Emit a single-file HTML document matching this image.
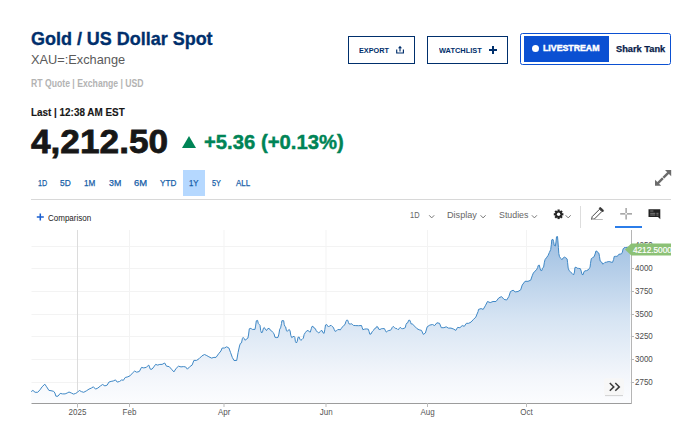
<!DOCTYPE html>
<html><head><meta charset="utf-8"><title>Gold / US Dollar Spot</title>
<style>
html,body{margin:0;padding:0;background:#fff;}
body{width:679px;height:422px;position:relative;overflow:hidden;font-family:"Liberation Sans",Arial,sans-serif;}
.a{position:absolute;white-space:nowrap;line-height:1;transform-origin:0 0;}
.btn{border:1.3px solid #002f6c;box-sizing:border-box;height:28px;top:36px;}
</style></head><body>
<div class="a" style="left:183px;top:170px;width:22px;height:25.5px;background:#b5d8ff;"></div>
<div class="a btn" style="left:348px;width:67px;"></div>
<div class="a btn" style="left:427px;width:81px;"></div>
<div class="a" style="left:520px;top:33px;width:151px;height:32px;box-sizing:border-box;border:1.5px solid #0b50d2;border-radius:2.5px;"></div>
<div class="a" style="left:524px;top:36px;width:85px;height:26px;background:#0b50d2;"></div>
<div class="a" style="left:531.8px;top:44.9px;width:7px;height:7px;border-radius:3.5px;background:#fff;"></div>
<div class="a" style="left:181.8px;top:135.9px;width:0;height:0;border-left:7.3px solid transparent;border-right:7.3px solid transparent;border-bottom:12px solid #008456;"></div>
<div class="a" style="left:31px;top:199px;width:640px;height:1px;background:#d8d8d8;"></div>
<div class="a" id="title" style="left:30.8px;top:29.56px;font-size:18.6px;font-weight:bold;color:#002f6c;-webkit-text-stroke:0.35px #002f6c;transform:scaleX(0.9659);">Gold / US Dollar Spot</div>
<div class="a" id="sym" style="left:31.1px;top:53.63px;font-size:12.6px;font-weight:normal;color:#5a5a5a;transform:scaleX(1.0144);">XAU=:Exchange</div>
<div class="a" id="rt" style="left:31.1px;top:79.35px;font-size:10.1px;font-weight:bold;color:#b3b3b3;transform:scaleX(0.8577);">RT Quote | Exchange | USD</div>
<div class="a" id="last" style="left:31.4px;top:106.77px;font-size:10.9px;font-weight:bold;color:#171717;-webkit-text-stroke:0.15px #171717;transform:scaleX(0.9086);">Last | 12:38 AM EST</div>
<div class="a" id="price" style="left:30.9px;top:124.97px;font-size:33.7px;font-weight:bold;color:#171717;-webkit-text-stroke:0.8px #171717;transform:scaleX(1.0454);">4,212.50</div>
<div class="a" id="chg" style="left:203.9px;top:131.55px;font-size:20.5px;font-weight:bold;color:#008456;-webkit-text-stroke:0.45px #008456;transform:scaleX(0.9885);">+5.36 (+0.13%)</div>
<div class="a" id="exp" style="left:359.1px;top:47.17px;font-size:7.6px;font-weight:bold;color:#002f6c;transform:scaleX(0.9573);">EXPORT</div>
<div class="a" id="wl" style="left:438.6px;top:47.17px;font-size:7.6px;font-weight:bold;color:#002f6c;transform:scaleX(0.9763);">WATCHLIST</div>
<div class="a" id="ls" style="left:543.1px;top:42.64px;font-size:9.4px;font-weight:bold;color:#ffffff;-webkit-text-stroke:0.45px #ffffff;transform:scaleX(0.9351);">LIVESTREAM</div>
<div class="a" id="st" style="left:615.8px;top:44.72px;font-size:8.6px;font-weight:bold;color:#0a1d4a;-webkit-text-stroke:0.25px #0a1d4a;transform:scaleX(1.0765);">Shark Tank</div>
<div class="a" id="t1" style="left:37.7px;top:178.68px;font-size:9px;font-weight:normal;color:#1660a8;-webkit-text-stroke:0.25px #1660a8;transform:scaleX(0.7989);">1D</div>
<div class="a" id="t2" style="left:60.3px;top:178.68px;font-size:9px;font-weight:normal;color:#1660a8;-webkit-text-stroke:0.25px #1660a8;transform:scaleX(0.9292);">5D</div>
<div class="a" id="t3" style="left:84.4px;top:178.68px;font-size:9px;font-weight:normal;color:#1660a8;-webkit-text-stroke:0.25px #1660a8;transform:scaleX(0.9029);">1M</div>
<div class="a" id="t4" style="left:108.8px;top:178.68px;font-size:9px;font-weight:normal;color:#1660a8;-webkit-text-stroke:0.25px #1660a8;transform:scaleX(0.9828);">3M</div>
<div class="a" id="t5" style="left:133.9px;top:178.68px;font-size:9px;font-weight:normal;color:#1660a8;-webkit-text-stroke:0.25px #1660a8;transform:scaleX(1.0467);">6M</div>
<div class="a" id="t6" style="left:160.0px;top:178.68px;font-size:9px;font-weight:normal;color:#1660a8;-webkit-text-stroke:0.25px #1660a8;transform:scaleX(0.9056);">YTD</div>
<div class="a" id="t7" style="left:189.4px;top:178.68px;font-size:9px;font-weight:normal;color:#1660a8;-webkit-text-stroke:0.25px #1660a8;transform:scaleX(0.8624);">1Y</div>
<div class="a" id="t8" style="left:212.3px;top:178.68px;font-size:9px;font-weight:normal;color:#1660a8;-webkit-text-stroke:0.25px #1660a8;transform:scaleX(0.8079);">5Y</div>
<div class="a" id="t9" style="left:236.0px;top:178.68px;font-size:9px;font-weight:normal;color:#1660a8;-webkit-text-stroke:0.25px #1660a8;transform:scaleX(0.8866);">ALL</div>
<div class="a" id="cmp" style="left:48.3px;top:214.42px;font-size:8.6px;font-weight:normal;color:#222;transform:scaleX(0.9322);">Comparison</div>
<div class="a" id="b1" style="left:409.9px;top:210.92px;font-size:8.6px;font-weight:normal;color:#666;transform:scaleX(0.8636);">1D</div>
<div class="a" id="b2" style="left:447.0px;top:210.92px;font-size:8.6px;font-weight:normal;color:#666;transform:scaleX(1.0608);">Display</div>
<div class="a" id="b3" style="left:498.7px;top:210.92px;font-size:8.6px;font-weight:normal;color:#666;transform:scaleX(1.0254);">Studies</div>
<svg class="a" style="left:0;top:0" width="679" height="422" viewBox="0 0 679 422">
<defs><linearGradient id="g" x1="0" y1="236" x2="0" y2="401" gradientUnits="userSpaceOnUse">
<stop offset="0" stop-color="#9dbee1"/><stop offset="0.5" stop-color="#d6e4f3"/><stop offset="0.85" stop-color="#f3f6fb"/><stop offset="1" stop-color="#fbfcfe"/></linearGradient></defs>
<!-- export icon -->
<path d="M396.7 49.6V53H403.4V49.6M400 51.4V47.6" fill="none" stroke="#002f6c" stroke-width="1.15"/><path d="M400 45.8L402 48.3H398Z" fill="#002f6c"/>
<!-- watchlist plus -->
<path d="M493 46V54M489 50H497" fill="none" stroke="#002f6c" stroke-width="2"/>
<!-- expand icon -->
<g fill="#6b6b6b" stroke="none"><path d="M665 170H671.2V176.2Z"/><path d="M655 179.8V185.8H661.2Z"/></g>
<path d="M668.5 172.7L657.7 183.3" stroke="#6b6b6b" stroke-width="2.4" fill="none"/><path d="M661.4 176.2L664.2 179" stroke="#fff" stroke-width="0.9"/>
<!-- comparison plus -->
<path d="M40.3 213.6V220.6M36.8 217.1H43.8" fill="none" stroke="#1a5fd0" stroke-width="1.5"/>
<!-- chevrons -->
<g fill="none" stroke="#777" stroke-width="1"><path d="M429.2 215.3L431.7 217.9L434.2 215.3"/><path d="M480.6 215.3L483.1 217.9L485.6 215.3"/><path d="M531.9 215.3L534.4 217.9L536.9 215.3"/><path d="M565.7 215.3L568.2 217.9L570.7 215.3"/></g>
<!-- gear -->
<g transform="translate(558.6 214.3)"><g fill="#222"><circle r="3.4"/>
<rect x="-1.1" y="-4.8" width="2.2" height="9.6"/><rect x="-1.1" y="-4.8" width="2.2" height="9.6" transform="rotate(45)"/><rect x="-1.1" y="-4.8" width="2.2" height="9.6" transform="rotate(90)"/><rect x="-1.1" y="-4.8" width="2.2" height="9.6" transform="rotate(135)"/></g><circle r="1.7" fill="#fff"/></g>
<!-- separator -->
<path d="M580.5 206V228" stroke="#ddd"/>
<!-- pencil -->
<g fill="none" stroke="#444" stroke-width="1"><path d="M592.2 216.6L599.6 209.2L601.9 211.5L594.5 218.9L591.6 219.4Z"/><path d="M599 208.2L600.8 207.6L603.4 210.2L602.8 212Z" fill="#333"/></g>
<path d="M591.8 219.5H602.8" stroke="#bbb" stroke-width="1"/>
<!-- crosshair -->
<path d="M626.1 207.9V213M626.1 214.6V219.6M620.2 213.8H625.3M626.9 213.8H632" stroke="#8c8c8c" stroke-width="1.2" fill="none"/>
<rect x="615" y="226" width="27" height="2" fill="#2b7de9"/>
<!-- comment icon -->
<path d="M648.5 209.2H660.3V219.3L658 217H648.5Z" fill="#222"/>
<path d="M650.2 211H653.4M650.2 213.3H655.3M656.4 213.3H658.5M650.2 215H655.3M656.4 215H658.5" stroke="#8a8a8a" stroke-width="0.9"/>
<!-- chart -->
<g stroke="#f3f3f3" stroke-width="1" fill="none">
<path d="M31.5 246.5H631M31.5 268.5H631M31.5 291.5H631M31.5 314.5H631M31.5 336.5H631M31.5 359.5H631M31.5 382.5H631"/>
<path d="M129.5 230V403M224 230V403M326 230V403M427.5 230V403M526.5 230V403"/>
</g>
<path d="M77.5 230V408" stroke="#dcdcdc" stroke-width="1"/>
<path d="M31.2,391.6 L32.9,390.4 L35.1,392.3 L37.7,392.3 L40.0,389.8 L42.1,386.8 L44.8,384.2 L46.6,386.8 L48.9,390.4 L51.0,390.7 L53.6,391.3 L54.9,393.0 L55.9,396.2 L58.0,396.2 L60.2,393.4 L62.5,393.9 L65.1,393.9 L67.2,393.0 L69.0,392.0 L71.3,393.0 L73.6,394.1 L75.7,393.4 L77.5,392.3 L79.3,390.4 L81.4,391.6 L83.7,392.3 L86.3,390.9 L89.0,389.1 L91.3,388.1 L93.4,386.8 L95.5,389.1 L97.8,388.1 L100.5,385.9 L102.6,384.5 L104.9,385.9 L107.2,385.1 L108.9,382.1 L111.1,381.4 L113.2,381.0 L115.5,379.9 L117.2,382.1 L119.5,381.5 L121.7,379.9 L123.4,380.3 L125.2,377.5 L127.9,376.8 L130.2,375.7 L132.3,373.2 L134.6,371.1 L136.7,372.2 L139.3,371.5 L141.5,367.4 L143.8,367.9 L146.1,367.4 L146.7,366.9 L148.8,365.1 L150.3,369.2 L152.0,369.2 L153.8,366.9 L155.6,364.4 L157.7,365.1 L159.8,364.4 L162.1,364.4 L164.7,363.0 L166.5,366.2 L169.2,366.6 L171.5,369.2 L173.9,371.9 L176.2,368.3 L178.5,366.2 L181.0,366.9 L183.3,366.6 L185.6,366.9 L187.4,369.2 L189.5,366.9 L192.1,365.1 L193.9,360.4 L196.6,360.4 L199.2,358.6 L201.9,355.9 L204.5,354.5 L206.8,355.6 L208.9,356.8 L211.6,358.1 L213.9,357.4 L216.0,357.4 L218.6,353.8 L220.9,351.0 L222.2,348.0 L224.5,348.0 L226.6,346.8 L228.9,348.0 L230.5,352.4 L232.3,357.4 L234.0,360.5 L236.7,360.5 L238.1,352.4 L239.5,346.0 L240.4,343.4 L241.5,342.9 L242.4,338.5 L243.2,337.4 L244.1,338.5 L245.3,340.3 L246.4,339.0 L247.9,338.1 L248.5,335.0 L249.3,328.8 L250.1,328.3 L251.5,328.8 L252.3,329.4 L255.0,329.4 L255.6,326.1 L256.3,320.8 L257.6,320.4 L258.3,323.5 L259.2,324.4 L260.0,325.3 L260.7,330.6 L261.6,333.0 L262.5,331.9 L263.4,328.3 L264.3,327.5 L265.3,329.2 L266.5,330.6 L267.6,328.8 L269.1,328.3 L270.3,330.1 L271.3,330.6 L272.7,332.3 L274.0,333.6 L274.9,337.2 L276.2,337.6 L278.0,337.4 L278.9,334.1 L279.7,329.2 L280.6,327.9 L281.5,323.5 L281.9,320.7 L283.7,320.7 L284.2,324.4 L285.0,326.6 L285.7,327.0 L286.4,330.6 L287.3,331.4 L288.3,330.1 L289.3,329.5 L290.1,331.0 L290.8,335.4 L291.7,337.6 L293.0,336.7 L294.1,336.3 L294.8,337.3 L295.4,341.5 L296.4,343.0 L297.3,341.1 L298.0,337.3 L299.2,337.1 L299.9,339.2 L300.8,340.3 L302.1,339.4 L303.3,338.2 L304.2,334.4 L305.4,332.5 L306.8,330.8 L308.0,330.5 L309.2,331.6 L310.3,332.1 L311.3,328.7 L312.0,326.4 L313.1,326.4 L314.1,328.0 L315.3,328.6 L316.3,330.8 L317.5,332.1 L318.8,333.0 L320.1,331.6 L321.0,330.5 L322.2,330.8 L322.9,332.7 L324.1,333.3 L324.8,329.7 L325.5,325.0 L326.7,324.5 L327.6,325.9 L328.6,327.0 L329.8,325.7 L331.2,325.4 L332.1,326.4 L333.3,327.3 L334.3,329.7 L335.2,331.4 L336.5,330.8 L337.6,329.7 L339.0,329.5 L340.3,329.9 L341.4,328.3 L342.5,326.9 L343.8,325.4 L345.0,324.5 L345.9,321.6 L346.6,320.2 L347.7,320.2 L348.5,322.6 L349.2,324.0 L350.4,324.0 L351.8,323.8 L352.8,324.8 L353.4,325.4 L355.8,325.6 L358.6,325.7 L361.5,325.5 L362.2,327.6 L362.9,329.7 L364.3,329.2 L366.2,328.9 L368.3,329.2 L369.1,331.6 L369.8,334.2 L371.0,334.0 L372.1,331.8 L373.3,330.6 L374.6,328.6 L375.9,328.0 L376.8,326.4 L377.8,327.0 L378.7,329.2 L380.0,329.5 L381.4,328.7 L382.8,328.6 L384.4,328.6 L385.2,330.2 L386.3,332.1 L387.5,331.1 L388.8,330.5 L390.1,330.3 L391.3,329.5 L392.3,327.3 L393.2,326.4 L394.5,327.6 L395.6,328.4 L397.0,328.7 L398.0,329.7 L399.2,328.7 L400.2,327.3 L401.3,328.4 L402.7,328.7 L404.1,328.3 L405.3,327.6 L406.0,324.5 L406.8,323.1 L407.9,322.6 L408.5,320.4 L409.8,320.2 L410.6,322.3 L411.2,324.0 L412.1,323.8 L414.8,326.3 L416.9,328.6 L419.2,329.8 L421.5,330.4 L423.3,334.4 L425.4,333.0 L427.2,326.8 L429.8,325.1 L432.5,324.5 L434.6,325.6 L436.9,322.8 L439.5,323.3 L441.3,327.7 L443.9,327.7 L446.2,326.8 L448.4,328.1 L451.0,328.1 L453.7,329.1 L455.8,330.4 L457.6,327.4 L459.9,327.7 L462.2,325.6 L464.3,326.3 L466.4,323.3 L468.7,323.3 L471.0,322.1 L473.1,319.8 L475.8,317.1 L478.1,311.5 L478.5,309.4 L481.1,308.6 L483.2,309.4 L485.3,305.8 L487.5,301.5 L490.2,302.6 L493.0,301.5 L496.0,301.5 L498.8,297.9 L501.5,296.6 L504.1,299.4 L506.7,300.0 L508.8,296.6 L510.5,291.5 L513.1,290.2 L515.2,291.9 L518.0,291.5 L520.7,289.8 L522.2,285.1 L525.0,281.3 L528.0,281.3 L530.7,280.2 L532.2,275.8 L533.3,273.1 L534.9,271.2 L536.5,269.8 L537.6,267.6 L538.2,265.5 L539.3,265.1 L540.0,268.2 L540.7,270.4 L541.8,270.6 L542.5,268.2 L543.6,267.1 L544.4,262.2 L545.1,259.5 L546.4,257.8 L548.0,255.6 L549.4,252.4 L550.7,249.6 L551.4,244.2 L551.8,239.8 L552.9,239.3 L553.6,241.5 L554.2,245.3 L555.3,246.1 L556.0,242.0 L556.5,236.8 L557.5,236.5 L557.9,240.9 L558.4,247.5 L558.8,253.5 L559.5,256.7 L560.8,258.4 L561.9,259.7 L563.3,257.8 L564.4,257.1 L565.8,257.8 L567.1,258.9 L567.6,262.7 L568.2,268.2 L569.1,270.6 L570.6,272.0 L572.3,273.6 L573.6,274.9 L574.5,272.0 L574.9,267.6 L576.0,267.1 L577.1,268.2 L578.7,268.4 L580.4,268.7 L581.2,271.1 L582.0,274.4 L583.1,274.7 L583.9,272.0 L584.7,270.9 L586.4,270.7 L588.0,270.0 L588.9,268.7 L590.0,267.6 L590.5,263.3 L591.3,258.7 L592.4,257.8 L594.0,256.9 L595.1,254.0 L595.9,251.1 L596.9,251.1 L597.8,252.6 L598.9,253.2 L599.5,256.7 L600.2,261.1 L601.6,262.0 L602.7,264.1 L603.8,263.5 L604.9,262.4 L606.5,262.2 L608.2,261.6 L609.8,261.6 L611.1,262.2 L612.5,262.4 L613.6,259.5 L614.2,256.5 L615.5,256.3 L616.9,256.3 L618.3,255.4 L618.8,254.3 L620.2,254.1 L621.6,253.7 L622.4,252.1 L623.1,248.9 L624.0,247.8 L625.3,247.6 L627.3,247.3 L630.2,247.3 L630.2,403 L31.2,403 Z" fill="url(#g)"/>
<path d="M31.2,391.6 L32.9,390.4 L35.1,392.3 L37.7,392.3 L40.0,389.8 L42.1,386.8 L44.8,384.2 L46.6,386.8 L48.9,390.4 L51.0,390.7 L53.6,391.3 L54.9,393.0 L55.9,396.2 L58.0,396.2 L60.2,393.4 L62.5,393.9 L65.1,393.9 L67.2,393.0 L69.0,392.0 L71.3,393.0 L73.6,394.1 L75.7,393.4 L77.5,392.3 L79.3,390.4 L81.4,391.6 L83.7,392.3 L86.3,390.9 L89.0,389.1 L91.3,388.1 L93.4,386.8 L95.5,389.1 L97.8,388.1 L100.5,385.9 L102.6,384.5 L104.9,385.9 L107.2,385.1 L108.9,382.1 L111.1,381.4 L113.2,381.0 L115.5,379.9 L117.2,382.1 L119.5,381.5 L121.7,379.9 L123.4,380.3 L125.2,377.5 L127.9,376.8 L130.2,375.7 L132.3,373.2 L134.6,371.1 L136.7,372.2 L139.3,371.5 L141.5,367.4 L143.8,367.9 L146.1,367.4 L146.7,366.9 L148.8,365.1 L150.3,369.2 L152.0,369.2 L153.8,366.9 L155.6,364.4 L157.7,365.1 L159.8,364.4 L162.1,364.4 L164.7,363.0 L166.5,366.2 L169.2,366.6 L171.5,369.2 L173.9,371.9 L176.2,368.3 L178.5,366.2 L181.0,366.9 L183.3,366.6 L185.6,366.9 L187.4,369.2 L189.5,366.9 L192.1,365.1 L193.9,360.4 L196.6,360.4 L199.2,358.6 L201.9,355.9 L204.5,354.5 L206.8,355.6 L208.9,356.8 L211.6,358.1 L213.9,357.4 L216.0,357.4 L218.6,353.8 L220.9,351.0 L222.2,348.0 L224.5,348.0 L226.6,346.8 L228.9,348.0 L230.5,352.4 L232.3,357.4 L234.0,360.5 L236.7,360.5 L238.1,352.4 L239.5,346.0 L240.4,343.4 L241.5,342.9 L242.4,338.5 L243.2,337.4 L244.1,338.5 L245.3,340.3 L246.4,339.0 L247.9,338.1 L248.5,335.0 L249.3,328.8 L250.1,328.3 L251.5,328.8 L252.3,329.4 L255.0,329.4 L255.6,326.1 L256.3,320.8 L257.6,320.4 L258.3,323.5 L259.2,324.4 L260.0,325.3 L260.7,330.6 L261.6,333.0 L262.5,331.9 L263.4,328.3 L264.3,327.5 L265.3,329.2 L266.5,330.6 L267.6,328.8 L269.1,328.3 L270.3,330.1 L271.3,330.6 L272.7,332.3 L274.0,333.6 L274.9,337.2 L276.2,337.6 L278.0,337.4 L278.9,334.1 L279.7,329.2 L280.6,327.9 L281.5,323.5 L281.9,320.7 L283.7,320.7 L284.2,324.4 L285.0,326.6 L285.7,327.0 L286.4,330.6 L287.3,331.4 L288.3,330.1 L289.3,329.5 L290.1,331.0 L290.8,335.4 L291.7,337.6 L293.0,336.7 L294.1,336.3 L294.8,337.3 L295.4,341.5 L296.4,343.0 L297.3,341.1 L298.0,337.3 L299.2,337.1 L299.9,339.2 L300.8,340.3 L302.1,339.4 L303.3,338.2 L304.2,334.4 L305.4,332.5 L306.8,330.8 L308.0,330.5 L309.2,331.6 L310.3,332.1 L311.3,328.7 L312.0,326.4 L313.1,326.4 L314.1,328.0 L315.3,328.6 L316.3,330.8 L317.5,332.1 L318.8,333.0 L320.1,331.6 L321.0,330.5 L322.2,330.8 L322.9,332.7 L324.1,333.3 L324.8,329.7 L325.5,325.0 L326.7,324.5 L327.6,325.9 L328.6,327.0 L329.8,325.7 L331.2,325.4 L332.1,326.4 L333.3,327.3 L334.3,329.7 L335.2,331.4 L336.5,330.8 L337.6,329.7 L339.0,329.5 L340.3,329.9 L341.4,328.3 L342.5,326.9 L343.8,325.4 L345.0,324.5 L345.9,321.6 L346.6,320.2 L347.7,320.2 L348.5,322.6 L349.2,324.0 L350.4,324.0 L351.8,323.8 L352.8,324.8 L353.4,325.4 L355.8,325.6 L358.6,325.7 L361.5,325.5 L362.2,327.6 L362.9,329.7 L364.3,329.2 L366.2,328.9 L368.3,329.2 L369.1,331.6 L369.8,334.2 L371.0,334.0 L372.1,331.8 L373.3,330.6 L374.6,328.6 L375.9,328.0 L376.8,326.4 L377.8,327.0 L378.7,329.2 L380.0,329.5 L381.4,328.7 L382.8,328.6 L384.4,328.6 L385.2,330.2 L386.3,332.1 L387.5,331.1 L388.8,330.5 L390.1,330.3 L391.3,329.5 L392.3,327.3 L393.2,326.4 L394.5,327.6 L395.6,328.4 L397.0,328.7 L398.0,329.7 L399.2,328.7 L400.2,327.3 L401.3,328.4 L402.7,328.7 L404.1,328.3 L405.3,327.6 L406.0,324.5 L406.8,323.1 L407.9,322.6 L408.5,320.4 L409.8,320.2 L410.6,322.3 L411.2,324.0 L412.1,323.8 L414.8,326.3 L416.9,328.6 L419.2,329.8 L421.5,330.4 L423.3,334.4 L425.4,333.0 L427.2,326.8 L429.8,325.1 L432.5,324.5 L434.6,325.6 L436.9,322.8 L439.5,323.3 L441.3,327.7 L443.9,327.7 L446.2,326.8 L448.4,328.1 L451.0,328.1 L453.7,329.1 L455.8,330.4 L457.6,327.4 L459.9,327.7 L462.2,325.6 L464.3,326.3 L466.4,323.3 L468.7,323.3 L471.0,322.1 L473.1,319.8 L475.8,317.1 L478.1,311.5 L478.5,309.4 L481.1,308.6 L483.2,309.4 L485.3,305.8 L487.5,301.5 L490.2,302.6 L493.0,301.5 L496.0,301.5 L498.8,297.9 L501.5,296.6 L504.1,299.4 L506.7,300.0 L508.8,296.6 L510.5,291.5 L513.1,290.2 L515.2,291.9 L518.0,291.5 L520.7,289.8 L522.2,285.1 L525.0,281.3 L528.0,281.3 L530.7,280.2 L532.2,275.8 L533.3,273.1 L534.9,271.2 L536.5,269.8 L537.6,267.6 L538.2,265.5 L539.3,265.1 L540.0,268.2 L540.7,270.4 L541.8,270.6 L542.5,268.2 L543.6,267.1 L544.4,262.2 L545.1,259.5 L546.4,257.8 L548.0,255.6 L549.4,252.4 L550.7,249.6 L551.4,244.2 L551.8,239.8 L552.9,239.3 L553.6,241.5 L554.2,245.3 L555.3,246.1 L556.0,242.0 L556.5,236.8 L557.5,236.5 L557.9,240.9 L558.4,247.5 L558.8,253.5 L559.5,256.7 L560.8,258.4 L561.9,259.7 L563.3,257.8 L564.4,257.1 L565.8,257.8 L567.1,258.9 L567.6,262.7 L568.2,268.2 L569.1,270.6 L570.6,272.0 L572.3,273.6 L573.6,274.9 L574.5,272.0 L574.9,267.6 L576.0,267.1 L577.1,268.2 L578.7,268.4 L580.4,268.7 L581.2,271.1 L582.0,274.4 L583.1,274.7 L583.9,272.0 L584.7,270.9 L586.4,270.7 L588.0,270.0 L588.9,268.7 L590.0,267.6 L590.5,263.3 L591.3,258.7 L592.4,257.8 L594.0,256.9 L595.1,254.0 L595.9,251.1 L596.9,251.1 L597.8,252.6 L598.9,253.2 L599.5,256.7 L600.2,261.1 L601.6,262.0 L602.7,264.1 L603.8,263.5 L604.9,262.4 L606.5,262.2 L608.2,261.6 L609.8,261.6 L611.1,262.2 L612.5,262.4 L613.6,259.5 L614.2,256.5 L615.5,256.3 L616.9,256.3 L618.3,255.4 L618.8,254.3 L620.2,254.1 L621.6,253.7 L622.4,252.1 L623.1,248.9 L624.0,247.8 L625.3,247.6 L627.3,247.3 L630.2,247.3" fill="none" stroke="#3f88c6" stroke-width="1" stroke-linejoin="round"/>
<path d="M31.5 403.5H632" stroke="#9c9c9c" stroke-width="1"/>
<path d="M631.5 230V404" stroke="#b5b5b5" stroke-width="1"/>
<path d="M632 268.5H634M632 291.5H634M632 314.5H634M632 336.5H634M632 359.5H634M632 382.5H634" stroke="#b5b5b5"/>
<path d="M77.5 403V407M129.5 403V407M224 403V407M326 403V407M427.5 403V407M526.5 403V407" stroke="#bbb"/>
<g font-family="Liberation Sans, Arial, sans-serif" font-size="9" fill="#4d4d4d">
<text transform="translate(635 248.4) scale(0.89 1)">4250</text>
<text transform="translate(635 271) scale(0.89 1)">4000</text><text transform="translate(635 294.3) scale(0.89 1)">3750</text><text transform="translate(635 317.2) scale(0.89 1)">3500</text>
<text transform="translate(635 338.9) scale(0.89 1)">3250</text><text transform="translate(635 362) scale(0.89 1)">3000</text><text transform="translate(635 384.7) scale(0.89 1)">2750</text>
<g text-anchor="middle" fill="#555"><text transform="translate(77.5 414.5) scale(0.89 1)">2025</text><text transform="translate(129.5 414.5) scale(0.89 1)">Feb</text><text transform="translate(224.2 414.5) scale(0.89 1)">Apr</text><text transform="translate(326.2 414.5) scale(0.89 1)">Jun</text><text transform="translate(427.5 414.5) scale(0.89 1)">Aug</text><text transform="translate(526.5 414.5) scale(0.89 1)">Oct</text></g>
</g>
<path d="M625 249.5L631.3 243.6H671V255.5H631.3Z" fill="#8cc176"/>
<text transform="translate(632.9 252.9) scale(0.86 1)" font-family="Liberation Sans, Arial, sans-serif" font-size="9.6" fill="#fff" stroke="#fff" stroke-width="0.2">4212.5000</text>
<rect x="604" y="378.3" width="20" height="17.2" rx="2" fill="#f7f7f7"/>
<path d="M605 395.6H623" stroke="#cdcdcd" stroke-width="0.9"/>
<path d="M609.8 383L613.8 386.9L609.8 390.8M615.3 383L619.3 386.9L615.3 390.8" fill="none" stroke="#3a3a3a" stroke-width="1.5"/>
</svg>
</body></html>
